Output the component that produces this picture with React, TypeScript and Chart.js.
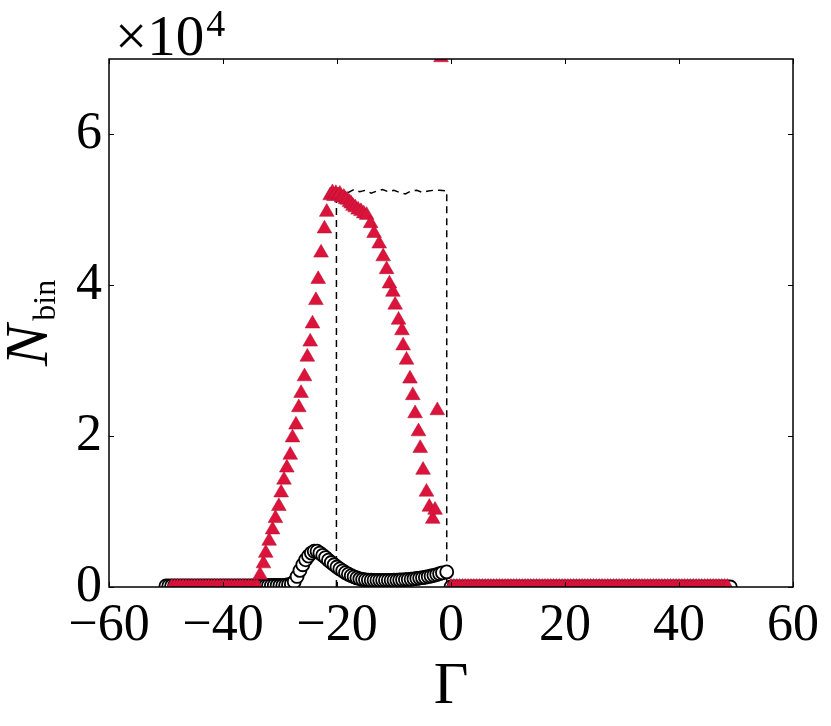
import { useEffect, useRef } from "react";
import { Chart, registerables } from "chart.js";

Chart.register(...registerables);

const SERIF = "'Liberation Serif', 'Times New Roman', serif";

// crimson triangles, left flat part
const triLeftGamma = [
  -49, -48.5, -48, -47.5, -47, -46.5, -46, -45.5, -45, -44.5, -44, -43.5, -43, -42.5,
  -42, -41.5, -41, -40.5, -40, -39.5, -39, -38.5, -38, -37.5, -37, -36.5, -36, -35.5,
  -35, -34.5, -34,
];
const triLeftCount = [
  0, 0, 0, 0, 0, 0, 0, 0, 0, 0, 0, 0, 0, 0, 0, 0, 0, 0, 0, 0, 0, 0, 0, 0, 0, 0, 0, 0,
  0, 0, 0,
];
// crimson triangles, peak
const triPeakGamma = [
  -33.5, -32.9, -32.5, -31.9, -31.3, -30.8, -30.2, -29.8, -29.3, -28.8, -28.2, -27.8,
  -27.2, -26.7, -26.3, -25.7, -25.2, -24.7, -24.3, -23.7, -23.3, -22.8, -22.2, -21.8,
  -21.2, -20.8, -20.5, -20.2, -19.8, -19.5, -19.2, -18.8, -18.5, -18.2, -17.8, -17.5,
  -17.2, -16.8, -16.3, -15.8, -15.3, -14.8, -14.1, -13.5, -12.6, -11.9, -11.3, -10.8,
  -10.2, -9.8, -9.2, -8.6, -8.4, -7.8, -7.2, -6.7, -6.3, -5.7, -5.4, -4.9, -4.3, -3.8,
  -3.2, -2.8, -2.4, -1.75,
];
const triPeakCount = [
  1600, 3100, 4500, 6100, 7600, 9100, 10700, 12500, 14200, 15800, 17500, 19800,
  21500, 23800, 25700, 27900, 30500, 32500, 34900, 38000, 40800, 44300, 47500, 49700,
  51900, 52300, 51800, 52200, 51900, 52100, 51600, 51700, 51400, 51300, 51000, 50800,
  50500, 50300, 50000, 49800, 49500, 49300, 48200, 46900, 45500, 43800, 42100, 40200,
  39100, 37400, 35400, 34000, 32000, 30100, 27600, 25400, 23000, 20600, 18400, 15500,
  12600, 10600, 9000, 10200, 23400, 70200,
];
// crimson triangles, right flat part
const triRightGamma = [
  0, 0.5, 1, 1.5, 2, 2.5, 3, 3.5, 4, 4.5, 5, 5.5, 6, 6.5, 7, 7.5, 8, 8.5, 9, 9.5,
  10, 10.5, 11, 11.5, 12, 12.5, 13, 13.5, 14, 14.5, 15, 15.5, 16, 16.5, 17, 17.5, 18, 18.5, 19, 19.5,
  20, 20.5, 21, 21.5, 22, 22.5, 23, 23.5, 24, 24.5, 25, 25.5, 26, 26.5, 27, 27.5, 28, 28.5, 29, 29.5,
  30, 30.5, 31, 31.5, 32, 32.5, 33, 33.5, 34, 34.5, 35, 35.5, 36, 36.5, 37, 37.5, 38, 38.5, 39, 39.5,
  40, 40.5, 41, 41.5, 42, 42.5, 43, 43.5, 44, 44.5, 45, 45.5, 46, 46.5, 47, 47.5, 48, 48.5,
];
const triRightCount = [
  0, 0, 0, 0, 0, 0, 0, 0, 0, 0, 0, 0, 0, 0, 0, 0, 0, 0, 0, 0,
  0, 0, 0, 0, 0, 0, 0, 0, 0, 0, 0, 0, 0, 0, 0, 0, 0, 0, 0, 0,
  0, 0, 0, 0, 0, 0, 0, 0, 0, 0, 0, 0, 0, 0, 0, 0, 0, 0, 0, 0,
  0, 0, 0, 0, 0, 0, 0, 0, 0, 0, 0, 0, 0, 0, 0, 0, 0, 0, 0, 0,
  0, 0, 0, 0, 0, 0, 0, 0, 0, 0, 0, 0, 0, 0, 0, 0, 0, 0,
];

// open circles, left flat part
const circLeftGamma = [
  -50, -49.5, -49, -48.5, -48, -47.5, -47, -46.5, -46, -45.5, -45, -44.5, -44, -43.5,
  -43, -42.5, -42, -41.5, -41, -40.5, -40, -39.5, -39, -38.5, -38, -37.5, -37, -36.5,
  -36, -35.5, -35, -34.5, -34, -33.5, -33, -32.5, -32, -31.5, -31, -30.5, -30, -29.5,
];
const circLeftCount = [
  150, 150, 150, 150, 150, 150, 150, 150, 150, 150, 150, 150, 150, 150,
  150, 150, 150, 150, 150, 150, 150, 150, 150, 150, 150, 150, 150, 150,
  150, 150, 150, 150, 150, 150, 150, 150, 200, 200, 200, 200, 200, 220,
];
// open circles, bump and slope
const circPeakGamma = [
  -29, -28.5, -28, -27.5, -27, -26.5, -26, -25.5, -25, -24.5, -24,
  -23.5, -23, -22.5, -22, -21.5, -21, -20.5, -20, -19.5, -19, -18.5, -18, -17.5, -17,
  -16.5, -16, -15.5, -15, -14.5, -14, -13.5, -13, -12.5, -12, -11.5, -11, -10.5, -10,
  -9.5, -9, -8.5, -8, -7.5, -7, -6.5, -6, -5.5, -5, -4.5, -4, -3.5, -3, -2.5, -2, -1.5,
  -0.75,
];
const circPeakCount = [
  250, 300, 400, 700, 1400, 2200, 2950, 3600, 4100, 4500, 4750,
  4750, 4500, 4200, 3900, 3550, 3250, 2950, 2650, 2400, 2150, 1900, 1700, 1500, 1350,
  1200, 1080, 1000, 950, 920, 900, 890, 890, 890, 890, 890, 890, 890, 900,
  910, 930, 950, 980, 1000, 1030, 1080, 1130, 1180, 1240, 1300, 1380, 1460, 1550, 1650,
  1760, 1880, 2000,
];
// open circles, right flat part
const circRightGamma = [
  0, 0.5, 1, 1.5, 2, 2.5, 3, 3.5, 4, 4.5, 5, 5.5, 6, 6.5, 7, 7.5, 8, 8.5, 9, 9.5,
  10, 10.5, 11, 11.5, 12, 12.5, 13, 13.5, 14, 14.5, 15, 15.5, 16, 16.5, 17, 17.5, 18, 18.5, 19, 19.5,
  20, 20.5, 21, 21.5, 22, 22.5, 23, 23.5, 24, 24.5, 25, 25.5, 26, 26.5, 27, 27.5, 28, 28.5, 29, 29.5,
  30, 30.5, 31, 31.5, 32, 32.5, 33, 33.5, 34, 34.5, 35, 35.5, 36, 36.5, 37, 37.5, 38, 38.5, 39, 39.5,
  40, 40.5, 41, 41.5, 42, 42.5, 43, 43.5, 44, 44.5, 45, 45.5, 46, 46.5, 47, 47.5, 48, 48.5, 49,
];
const circRightCount = [
  0, 0, 0, 0, 0, 0, 0, 0, 0, 0, 0, 0, 0, 0, 0, 0, 0, 0, 0, 0,
  0, 0, 0, 0, 0, 0, 0, 0, 0, 0, 0, 0, 0, 0, 0, 0, 0, 0, 0, 0,
  0, 0, 0, 0, 0, 0, 0, 0, 0, 0, 0, 0, 0, 0, 0, 0, 0, 0, 0, 0,
  0, 0, 0, 0, 0, 0, 0, 0, 0, 0, 0, 0, 0, 0, 0, 0, 0, 0, 0, 0,
  0, 0, 0, 0, 0, 0, 0, 0, 0, 0, 0, 0, 0, 0, 0, 0, 0, 0, 0,
];

// dashed reference histogram
const dashGamma = [
  -20.1, -20.1, -19, -18, -17, -16, -15, -14, -13, -12, -11, -10, -9, -8, -7, -6, -5,
  -4, -3, -2, -0.75, -0.75,
];
const dashCount = [
  0, 52600, 52500, 52300, 52700, 52400, 52600, 52200, 52500, 52700, 52400, 52600, 52300,
  52100, 52500, 52600, 52300, 52500, 52600, 52600, 52500, 0,
];

const xTicks = [-60, -40, -20, 0, 20, 40, 60];
const yTicks = [0, 20000, 40000, 60000];

const toPoints = (xs: number[], ys: number[]) => xs.map((x, i) => ({ x, y: ys[i] }));

const framePlugin = {
  id: "frame",
  afterDatasetsDraw(chart: any) {
    const { ctx, chartArea: a, scales } = chart;
    ctx.save();
    ctx.strokeStyle = "#000";
    ctx.lineWidth = 1;
    ctx.beginPath();
    xTicks.forEach((v) => {
      const px = Math.round(scales.x.getPixelForValue(v)) + 0.5;
      ctx.moveTo(px, a.bottom);
      ctx.lineTo(px, a.bottom - 5);
      ctx.moveTo(px, a.top);
      ctx.lineTo(px, a.top + 5);
    });
    yTicks.forEach((v) => {
      const py = Math.round(scales.y.getPixelForValue(v)) + 0.5;
      ctx.moveTo(a.left, py);
      ctx.lineTo(a.left + 5, py);
      ctx.moveTo(a.right, py);
      ctx.lineTo(a.right - 5, py);
    });
    ctx.stroke();
    ctx.lineWidth = 1.5;
    ctx.strokeRect(a.left, a.top, a.right - a.left, a.bottom - a.top);
    ctx.restore();
  },
  afterDraw(chart: any) {
    const { ctx } = chart;
    ctx.save();
    ctx.fillStyle = "#000";
    ctx.textBaseline = "alphabetic";

    // x-axis title
    ctx.textAlign = "center";
    ctx.font = `60px ${SERIF}`;
    ctx.fillText("Γ", 451, 703);

    // multiplier
    ctx.textAlign = "left";
    ctx.font = `57px ${SERIF}`;
    ctx.fillText("×10", 115, 55);
    const w = ctx.measureText("×10").width;
    ctx.font = `38px ${SERIF}`;
    ctx.fillText("4", 115 + w + 2, 36);

    // y-axis title N_bin
    ctx.translate(47, 366);
    ctx.rotate(-Math.PI / 2);
    ctx.font = `italic 62px ${SERIF}`;
    ctx.fillText("N", 0, 0);
    const nw = ctx.measureText("N").width;
    ctx.font = `32px ${SERIF}`;
    ctx.fillText("bin", nw + 4, 8);
    ctx.restore();
  },
};

export default function App() {
  const canvasRef = useRef<HTMLCanvasElement | null>(null);

  useEffect(() => {
    if (!canvasRef.current) return;
    const chart = new Chart(canvasRef.current, {
      type: "scatter",
      data: {
        datasets: [
          {
            data: [
              ...toPoints(triLeftGamma, triLeftCount),
              ...toPoints(triPeakGamma, triPeakCount),
              ...toPoints(triRightGamma, triRightCount),
            ],
            pointStyle: "triangle",
            pointRadius: 8.5,
            backgroundColor: "#DC143C",
            borderColor: "#B0102F",
            borderWidth: 0.5,
            clip: 0,
          },
          {
            data: [
              ...toPoints(circLeftGamma, circLeftCount),
              ...toPoints(circPeakGamma, circPeakCount),
              ...toPoints(circRightGamma, circRightCount),
            ],
            pointStyle: "circle",
            pointRadius: 6.5,
            backgroundColor: "#ffffff",
            borderColor: "#000000",
            borderWidth: 1.8,
            clip: 0,
          },
          {
            data: toPoints(dashGamma, dashCount),
            showLine: true,
            pointRadius: 0,
            borderColor: "#000000",
            borderWidth: 1.5,
            borderDash: [7, 5],
            tension: 0,
            clip: 0,
          },
        ],
      } as any,
      options: {
        responsive: false,
        animation: false,
        events: [],
        layout: { padding: { top: 59, right: 38, left: 0, bottom: 0 } },
        plugins: { legend: { display: false }, tooltip: { enabled: false } },
        scales: {
          x: {
            type: "linear",
            min: -60,
            max: 60,
            afterFit: (s: any) => {
              s.height = 139;
            },
            afterBuildTicks: (s: any) => {
              s.ticks = xTicks.map((value) => ({ value }));
            },
            grid: { display: false, drawTicks: false },
            border: { display: false },
            ticks: {
              autoSkip: false,
              maxRotation: 0,
              padding: 8,
              color: "#000",
              font: { family: SERIF, size: 52 },
              callback: (v: any) => (v < 0 ? "\u2212" + -v : String(v)),
            },
          },
          y: {
            type: "linear",
            min: 0,
            max: 70000,
            afterFit: (s: any) => {
              s.width = 109;
            },
            afterBuildTicks: (s: any) => {
              s.ticks = yTicks.map((value) => ({ value }));
            },
            grid: { display: false, drawTicks: false },
            border: { display: false },
            ticks: {
              autoSkip: false,
              padding: 7,
              color: "#000",
              font: { family: SERIF, size: 52 },
              callback: (v: any) => String(v / 10000),
            },
          },
        },
      },
      plugins: [framePlugin],
    });
    return () => chart.destroy();
  }, []);

  return (
    <div style={{ position: "absolute", left: 0, top: 0, width: 831, height: 726, background: "#fff" }}>
      <canvas ref={canvasRef} width={831} height={726} />
    </div>
  );
}
